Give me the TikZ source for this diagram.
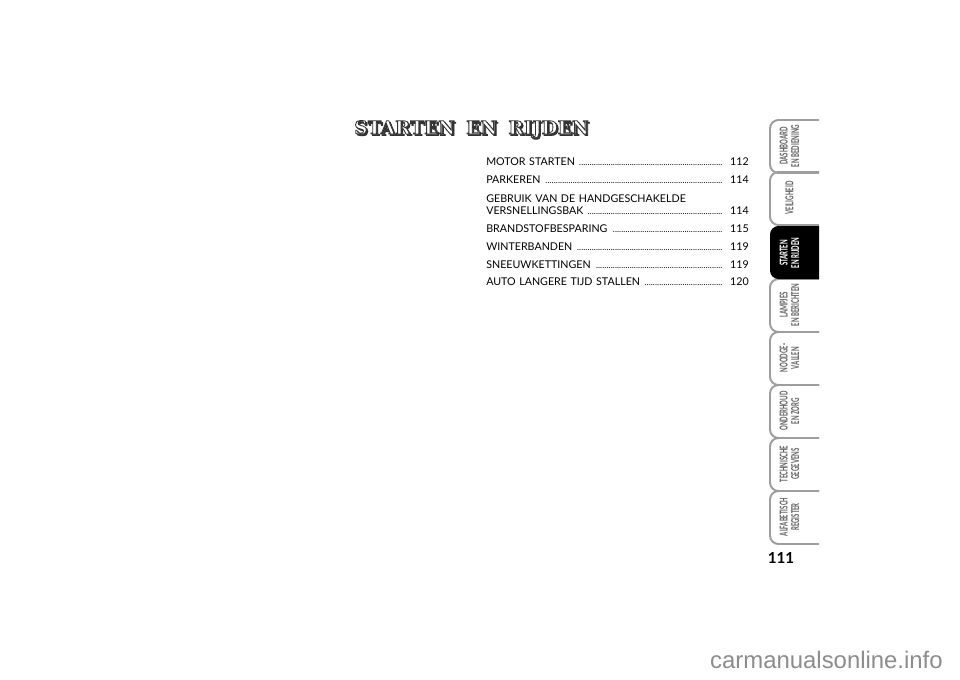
\documentclass[tikz,border=0pt]{standalone}
\usepackage{fontspec}
\setmainfont{Lato}
\newfontfamily\titlefont[LetterSpace=1.5]{DejaVu Serif Bold}
\newfontfamily\tabfont{Carlito}
\newfontfamily\urlfont{Liberation Sans}
\definecolor{tabgray}{gray}{0.62}
\definecolor{tabtext}{gray}{0.4}
\newcommand{\dotrow}{\leaders\hbox to 1.5pt{\hss\fontsize{6}{6}\selectfont.\hss}\hfill\null}
\newcommand{\tabstack}[2]{\scalebox{0.58}[1]{\begin{tabular}{@{}c@{}}#1\\#2\end{tabular}}}
\newcommand{\strokedtext}[1]{\special{pdf:code 2 Tr 0.6 w 0.2 G}#1\special{pdf:code 0 Tr 0 G}}
\tikzset{
  rowlabel/.style={anchor=base west,inner sep=0pt,font=\fontsize{7.6}{9}\selectfont,text width=169pt},
  rownum/.style={anchor=base east,inner sep=0pt,font=\fontsize{7.6}{9}\selectfont},
  tablabel/.style={rotate=90,inner sep=0pt,font=\tabfont\bfseries\fontsize{8.6}{8.2}\selectfont},
  titletext/.style={anchor=base west,inner sep=0pt,font=\titlefont\fontsize{13}{15}\selectfont}
}
\begin{document}
\begin{tikzpicture}[x=0.025cm,y=-0.025cm]
\useasboundingbox (0,0) rectangle (960,679);
% thumb tabs
\foreach \y/\line/\lineb/\name in {120/DASHBOARD/EN BEDIENING/dash,172/VEILIGHEID//veil,279/LAMPJES/EN BERICHTEN/lamp,332/NOODGE-/VALLEN/nood,385/ONDERHOUD/EN ZORG/onder,438/TECHNISCHE/GEGEVENS/tech,491/ALFABETISCH/REGISTER/alfa}
{
\draw [tabgray,line width=1.4pt,rounded corners=6pt] (819,\y) -- (770,\y) -- (770,\y+53) -- (819,\y+53);
\node [tablabel,text=tabtext] (\name) at (791,\y+26) {\tabstack{\line}{\lineb}};
}
\fill [black] (819,226) [rounded corners=6pt] -- (770,226) -- (770,279) [sharp corners] -- (819,279) -- cycle;
\node [tablabel,text=white] (start) at (791,253) {\tabstack{STARTEN}{EN RIJDEN}};
\node [anchor=base,inner sep=0pt,font=\bfseries\fontsize{10.8}{12}\selectfont] (page) at (781,563) {111};
% title
\node [titletext,text=black!80] (shadow) at (355.5,135.5) {\strokedtext{STARTEN\hspace{8pt}EN\hspace{8pt}RIJDEN}};
\node [titletext,text=white] (title) at (354,134) {\strokedtext{STARTEN\hspace{8pt}EN\hspace{8pt}RIJDEN}};
% contents
\foreach \y/\label/\num/\name in {165/MOTOR STARTEN/112/motor,183/PARKEREN/114/park,214/VERSNELLINGSBAK/114/bak,232/BRANDSTOFBESPARING/115/brand,250/WINTERBANDEN/119/winter,268/SNEEUWKETTINGEN/119/sneeuw,285/AUTO LANGERE TIJD STALLEN/120/auto}
{
\node [rowlabel] (\name) at (486,\y) {\label{} \dotrow};
\node [rownum] (\name nr) at (749,\y) {\num};
}
\node [rowlabel] (gebruik) at (486,202) {GEBRUIK VAN DE HANDGESCHAKELDE};
\node [anchor=base east,inner sep=0pt,text=black!45,font=\urlfont\fontsize{17}{18}\selectfont] (url) at (943,668) {carmanualsonline.info};
\end{tikzpicture}
\end{document}
